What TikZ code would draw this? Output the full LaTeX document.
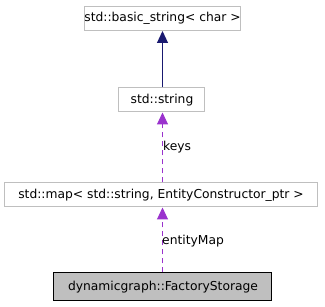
\documentclass[tikz,border=0pt]{standalone}
\usepackage{fontspec}
\setmainfont{DejaVu Sans}
\usetikzlibrary{arrows.meta}
\definecolor{boxline}{HTML}{BFBFBF}
\definecolor{mainfill}{HTML}{BFBFBF}
\definecolor{inherit}{HTML}{191970}
\definecolor{usage}{HTML}{9A32CD}
\begin{document}
\begin{tikzpicture}[x=1pt,y=-1pt,
  font=\fontsize{12.3}{14}\selectfont,
  classbox/.style={draw=boxline,fill=white,line width=1pt,inner sep=0pt,minimum height=24pt},
  mainbox/.style={draw=black,fill=mainfill,line width=1pt,inner sep=0pt,minimum height=28pt},
  inh/.style={draw=inherit,line width=1pt,-{Triangle[length=12pt,width=11pt]}},
  use/.style={draw=usage,line width=1pt,dash pattern=on 5pt off 4pt,-{Triangle[length=12pt,width=11pt]}},
  lbl/.style={inner sep=0pt,anchor=west}]
\useasboundingbox (0,0) rectangle (325,307);
\node[classbox,minimum width=145pt] (bstr) at (162.5,18.5) {std::basic\_string< char >};
\node[classbox,minimum width=86pt] (str) at (162,100) {std::string};
\node[classbox,minimum width=313pt] (map) at (161,195) {std::map< std::string, EntityConstructor\_ptr >};
\node[mainbox,minimum width=218pt] (fs) at (163,287) {dynamicgraph::FactoryStorage};
\draw[inh] (str.north -| 162.5,0) -- (bstr.south -| 162.5,0);
\draw[use] (map.north -| 162.5,0) -- (str.south -| 162.5,0);
\draw[use] (fs.north -| 162.5,0) -- (map.south -| 162.5,0);
\node[lbl] (keys) at (163,147) {keys};
\node[lbl] (emap) at (162,241) {entityMap};
\end{tikzpicture}
\end{document}
